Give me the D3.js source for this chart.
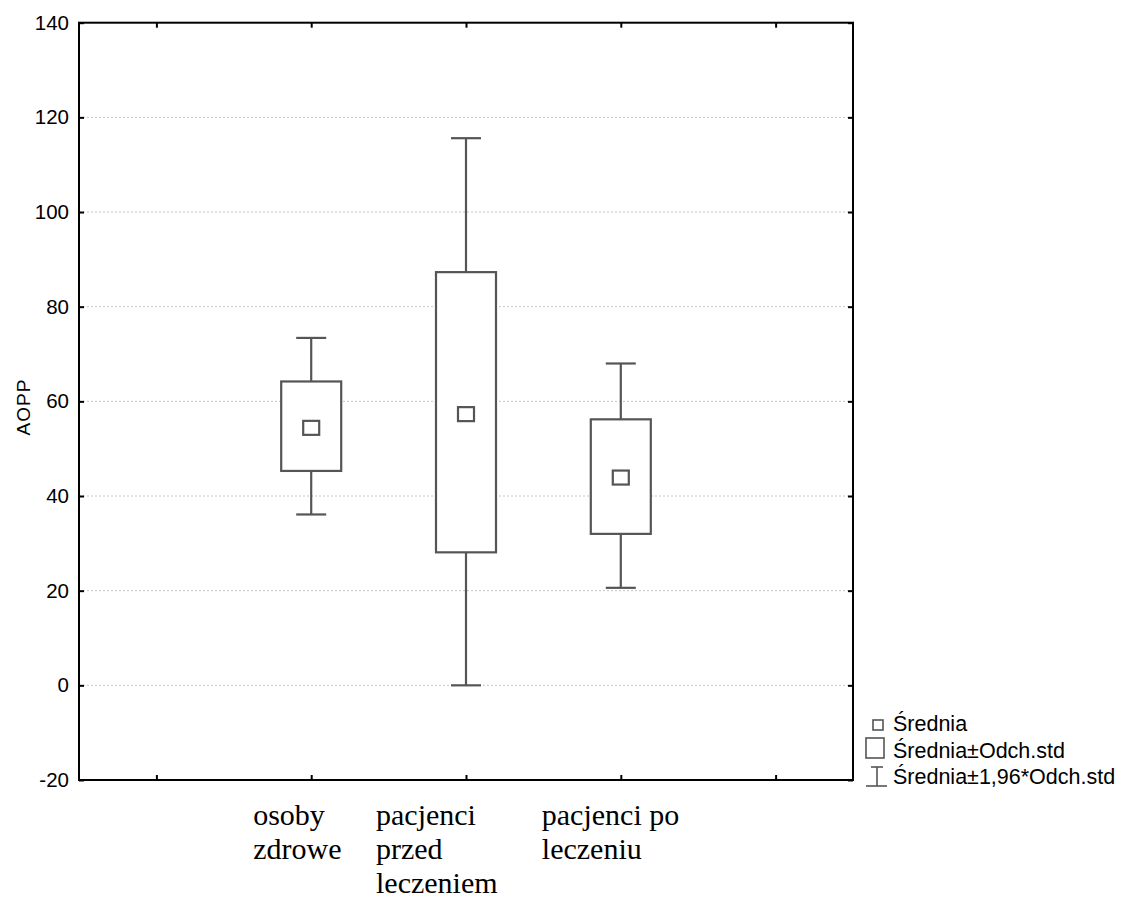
<!DOCTYPE html>
<html>
<head>
<meta charset="utf-8">
<script src="https://cdn.jsdelivr.net/npm/d3@7"></script>
<style>
  body { margin: 0; background: #fff; }
  svg { display: block; }
</style>
</head>
<body>
<svg id="chart" width="1122" height="900"></svg>
<script>
// category labels, one line per entry
var categories = [["osoby", "zdrowe"], ["pacjenci", "przed", "leczeniem"], ["pacjenci po", "leczeniu"]];
var catPos = [2, 3, 4];
var means = [54.4, 57.3, 43.9];
var sdLow = [45.3, 28.1, 32.0];
var sdHigh = [64.2, 87.3, 56.2];
var ciLow = [36.1, 0.0, 20.6];
var ciHigh = [73.4, 115.6, 68.0];
var yTicks = [-20, 0, 20, 40, 60, 80, 100, 120, 140];
var xTicks = [1, 2, 3, 4, 5];
var legendLabels = ["Średnia", "Średnia±Odch.std", "Średnia±1,96*Odch.std"];

// layout
var pLeft = 79, pRight = 853, pTop = 22.7, pBottom = 780;
var labelDx = [-58, -90, -79];
var boxColor = "#555";

var svg = d3.select("#chart");
var x = d3.scaleLinear().domain([0.5, 5.5]).range([pLeft, pRight]);
var y = d3.scaleLinear().domain([-20, 140]).range([pBottom, pTop]);

// grid
svg.append("g").selectAll("line")
	.data(yTicks.filter(function(d) { return d > -20 && d < 140; }))
	.enter().append("line")
	.attr("x1", pLeft).attr("x2", pRight)
	.attr("y1", function(d) { return y(d); })
	.attr("y2", function(d) { return y(d); })
	.attr("stroke", "#c4c4c4")
	.attr("stroke-width", 1)
	.attr("stroke-dasharray", "2,2");

// axes, ticks pointing inward
function styleTicks(g) {
	g.select(".domain").remove();
	g.selectAll("line").attr("stroke", "#000").attr("stroke-width", 2);
}
svg.append("g").attr("transform", "translate(" + pLeft + ",0)")
	.call(d3.axisLeft(y).tickValues(yTicks).tickSizeInner(-5).tickSizeOuter(0).tickPadding(10)
		.tickFormat(function(d) { return String(d); }))
	.call(styleTicks)
	.call(function(g) {
		g.selectAll("text").attr("font-family", "Liberation Sans, Arial, sans-serif")
			.attr("font-size", 20.5).attr("fill", "#000");
	});
svg.append("g").attr("transform", "translate(" + pRight + ",0)")
	.call(d3.axisRight(y).tickValues(yTicks).tickSizeInner(-5).tickSizeOuter(0).tickFormat(""))
	.call(styleTicks);
svg.append("g").attr("transform", "translate(0," + pBottom + ")")
	.call(d3.axisBottom(x).tickValues(xTicks).tickSizeInner(-5).tickSizeOuter(0).tickFormat(""))
	.call(styleTicks);
svg.append("g").attr("transform", "translate(0," + pTop + ")")
	.call(d3.axisTop(x).tickValues(xTicks).tickSizeInner(-5).tickSizeOuter(0).tickFormat(""))
	.call(styleTicks);

// frame
svg.append("rect")
	.attr("x", pLeft).attr("y", pTop)
	.attr("width", pRight - pLeft).attr("height", pBottom - pTop)
	.attr("fill", "none").attr("stroke", "#000").attr("stroke-width", 2);

// y label
svg.append("text")
	.attr("transform", "translate(30,407) rotate(-90)")
	.attr("text-anchor", "middle")
	.attr("font-family", "Liberation Sans, Arial, sans-serif")
	.attr("font-size", 19)
	.attr("letter-spacing", 1)
	.text("AOPP");

// boxes
var groups = svg.append("g").selectAll("g")
	.data(means.map(function(m, i) { return i; }))
	.enter().append("g");

var boxW = 60, capW = 30, meanW = 16, meanH = 14;

groups.append("line")
	.attr("x1", function(i) { return x(catPos[i]); })
	.attr("x2", function(i) { return x(catPos[i]); })
	.attr("y1", function(i) { return y(ciHigh[i]); })
	.attr("y2", function(i) { return y(sdHigh[i]); });
groups.append("line")
	.attr("x1", function(i) { return x(catPos[i]); })
	.attr("x2", function(i) { return x(catPos[i]); })
	.attr("y1", function(i) { return y(sdLow[i]); })
	.attr("y2", function(i) { return y(ciLow[i]); });
groups.append("line")
	.attr("x1", function(i) { return x(catPos[i]) - capW / 2; })
	.attr("x2", function(i) { return x(catPos[i]) + capW / 2; })
	.attr("y1", function(i) { return y(ciHigh[i]); })
	.attr("y2", function(i) { return y(ciHigh[i]); });
groups.append("line")
	.attr("x1", function(i) { return x(catPos[i]) - capW / 2; })
	.attr("x2", function(i) { return x(catPos[i]) + capW / 2; })
	.attr("y1", function(i) { return y(ciLow[i]); })
	.attr("y2", function(i) { return y(ciLow[i]); });
groups.append("rect")
	.attr("x", function(i) { return x(catPos[i]) - boxW / 2; })
	.attr("y", function(i) { return y(sdHigh[i]); })
	.attr("width", boxW)
	.attr("height", function(i) { return y(sdLow[i]) - y(sdHigh[i]); })
	.attr("fill", "#fff");
groups.append("rect")
	.attr("x", function(i) { return x(catPos[i]) - meanW / 2; })
	.attr("y", function(i) { return y(means[i]) - meanH / 2; })
	.attr("width", meanW).attr("height", meanH)
	.attr("fill", "#fff");
groups.selectAll("line, rect")
	.attr("stroke", boxColor).attr("stroke-width", 2.2);

// category labels
groups.append("text")
	.attr("font-family", "Liberation Serif, Times New Roman, serif")
	.attr("font-size", 30)
	.attr("fill", "#000")
	.selectAll("tspan")
	.data(function(i) { return categories[i].map(function(t) { return { t: t, i: i }; }); })
	.enter().append("tspan")
	.attr("x", function(d) { return x(catPos[d.i]) + labelDx[d.i]; })
	.attr("y", function(d, k) { return 825 + k * 34; })
	.text(function(d) { return d.t; });

// legend
var lg = svg.append("g").attr("stroke", boxColor).attr("stroke-width", 1.6).attr("fill", "#fff");
lg.append("rect").attr("x", 873).attr("y", 720).attr("width", 10).attr("height", 10);
lg.append("rect").attr("x", 866).attr("y", 738).attr("width", 18).attr("height", 20);
lg.append("line").attr("x1", 877).attr("x2", 877).attr("y1", 767).attr("y2", 786);
lg.append("line").attr("x1", 871).attr("x2", 883).attr("y1", 767).attr("y2", 767);
lg.append("line").attr("x1", 866).attr("x2", 887).attr("y1", 786).attr("y2", 786);

svg.append("g").selectAll("text")
	.data(legendLabels)
	.enter().append("text")
	.attr("x", 893)
	.attr("y", function(d, i) { return 731 + i * 26.5; })
	.attr("font-family", "Liberation Sans, Arial, sans-serif")
	.attr("font-size", 21.5)
	.attr("fill", "#000")
	.text(function(d) { return d; });
</script>
</body>
</html>
